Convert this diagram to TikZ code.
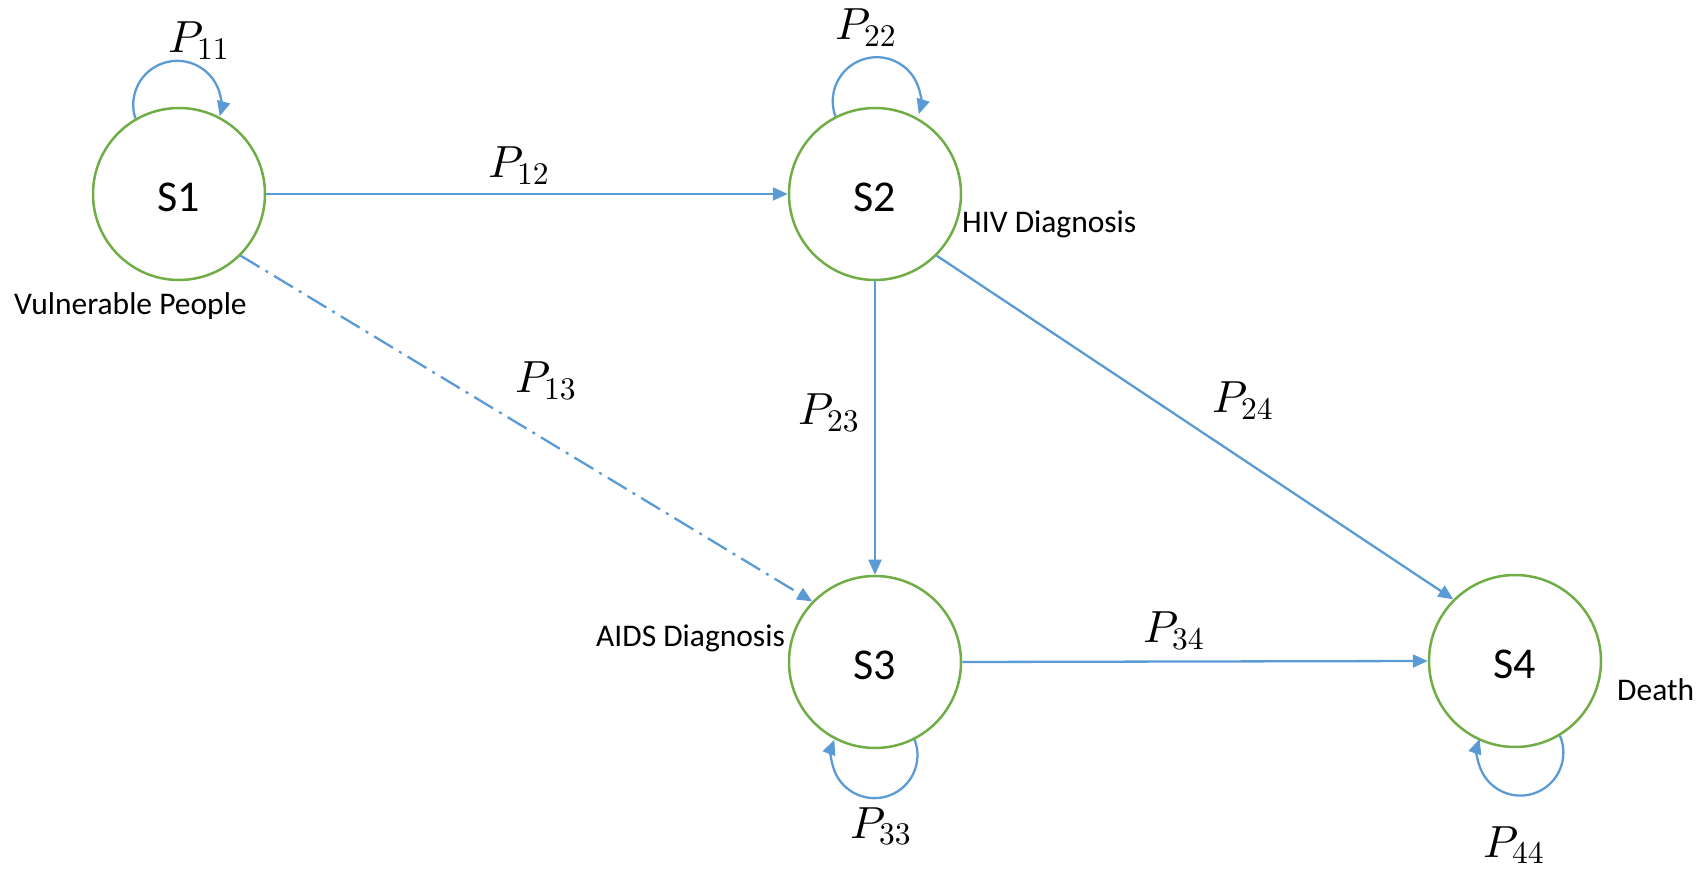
\documentclass[tikz,border=0pt]{standalone}
\usepackage[no-math]{fontspec}
\setmainfont{Carlito}
% scalable Computer Modern math fonts for large formula labels
\DeclareFontShape{OML}{cmm}{m}{it}{<->cmmi10}{}
\DeclareFontShape{OT1}{cmr}{m}{n}{<->cmr10}{}
\DeclareFontShape{OMS}{cmsy}{m}{n}{<->cmsy10}{}
\usetikzlibrary{arrows.meta}
\definecolor{edgeblue}{HTML}{5B9BD5}
\definecolor{stategreen}{HTML}{70AD47}
\begin{document}
\begin{tikzpicture}[x=1pt,y=1pt,
  state/.style={circle, draw=stategreen, line width=2.5pt, minimum size=172pt,
    inner sep=0pt, fill=white, text height=36pt, font=\fontsize{44}{52}\selectfont},
  arr/.style={draw=edgeblue, line width=2.3pt, -{Triangle[length=15pt,width=13pt]}},
  dashdot/.style={dash pattern=on 22pt off 7pt on 3pt off 7pt},
  plab/.style={inner sep=0pt, anchor=base west, font=\fontsize{45}{52}\selectfont},
  note/.style={inner sep=0pt, anchor=base west, font=\fontsize{31.5}{38}\selectfont}]
\useasboundingbox (0,0) rectangle (1701,871);

% states
\node[state] (s1) at (179,677) {S1};
\node[state] (s2) at (875,677) {S2};
\node[state] (s3) at (875,209) {S3};
\node[state] (s4) at (1515,210) {S4};

% state descriptions
\node[note] (d1) at (14,556) {Vulnerable People};
\node[note] (d2) at (962,638) {HIV Diagnosis};
\node[note] (d3) at (596,224) {AIDS Diagnosis};
\node[note] (d4) at (1617,171) {Death};

% transitions
\draw[arr] (s1.east) -- (s2.west);
\draw[arr, dashdot] (s1.-45) -- (s3.136);
\draw[arr] (s2.south) -- (s3.north);
\draw[arr] (s2.-45) -- (s4.135);
\draw[arr] (s3.east) -- (s4.west);

% self loops
\draw[arr] (s1.120) arc[start angle=198, end angle=-15, radius=44];
\draw[arr] (s2.117.5) arc[start angle=200, end angle=-17, radius=44];
\draw[arr] (s3.-63.7) arc[start angle=21, end angle=-201, radius=43];
\draw[arr] (s4.-59.8) arc[start angle=23, end angle=-198.5, radius=43];

% transition probabilities
\node[plab] (p11) at (168,818) {$P_{11}$};
\node[plab] (p22) at (835,831) {$P_{22}$};
\node[plab] (p12) at (488,693) {$P_{12}$};
\node[plab] (p13) at (515,478) {$P_{13}$};
\node[plab] (p23) at (798,446) {$P_{23}$};
\node[plab] (p24) at (1212,458) {$P_{24}$};
\node[plab] (p34) at (1143,228) {$P_{34}$};
\node[plab] (p33) at (850,33) {$P_{33}$};
\node[plab] (p44) at (1483,14) {$P_{44}$};
\end{tikzpicture}
\end{document}
